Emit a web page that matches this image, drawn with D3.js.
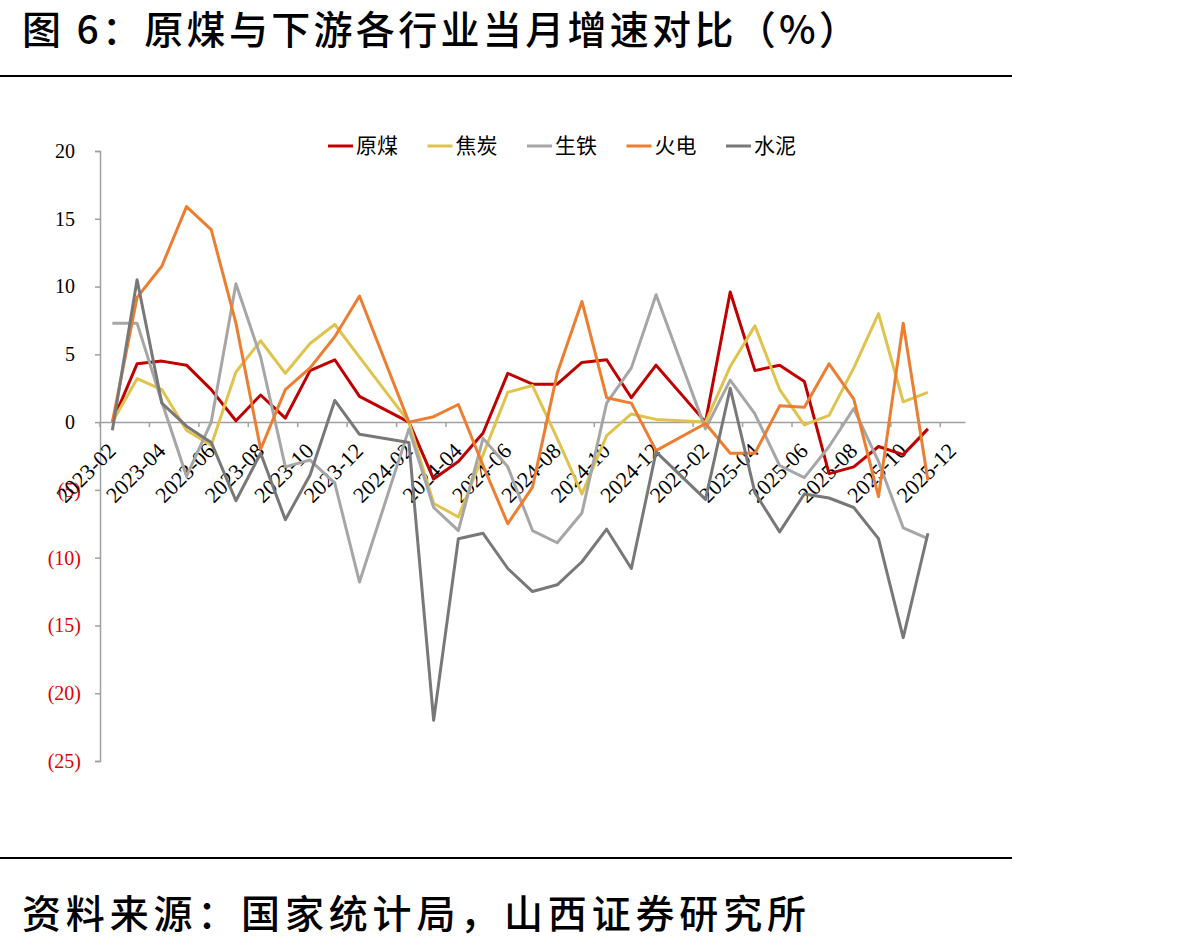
<!DOCTYPE html>
<html><head><meta charset="utf-8">
<script src="https://cdn.jsdelivr.net/npm/d3@7/dist/d3.min.js"></script>
<style>body{margin:0;background:#fff}</style>
</head><body>
<svg id="c" width="1193" height="944"></svg>
<script>
// ---- data ----
const categories = ["2023-02","2023-03","2023-04","2023-05","2023-06","2023-07","2023-08","2023-09","2023-10","2023-11","2023-12",
  "2024-01","2024-02","2024-03","2024-04","2024-05","2024-06","2024-07","2024-08","2024-09","2024-10","2024-11","2024-12",
  "2025-01","2025-02","2025-03","2025-04","2025-05","2025-06","2025-07","2025-08","2025-09","2025-10","2025-11","2025-12"];
const seriesNames = ["原煤","焦炭","生铁","火电","水泥"];
const coal   = [0.0,4.3,4.5,4.2,2.4,0.1,2.0,0.3,3.8,4.6,1.9,null,0.0,-4.2,-2.9,-0.8,3.6,2.8,2.8,4.4,4.6,1.8,4.2,null,0.0,9.6,3.8,4.2,3.0,-3.8,-3.3,-1.8,-2.4,-0.5,null];
const coke   = [0.0,3.2,2.4,-0.6,-1.7,3.7,6.0,3.6,5.8,7.2,4.8,null,0.0,-6.0,-7.0,-2.4,2.2,2.7,-1.2,-5.3,-1.0,0.6,0.2,null,0.0,4.1,7.1,2.4,-0.2,0.5,4.0,8.0,1.5,2.2,null];
const pigIron= [7.3,7.3,1.5,-4.0,0.0,10.2,4.8,-3.3,-2.8,-4.5,-11.8,null,-0.5,-6.3,-8.0,-1.2,-3.3,-8.0,-8.9,-6.7,1.4,4.0,9.4,null,-0.5,3.1,0.6,-3.2,-4.1,-1.8,1.0,-2.9,-7.8,-8.6,null];
const thermal= [0.0,9.2,11.5,15.9,14.2,7.3,-2.0,2.4,4.0,6.3,9.3,null,0.0,0.4,1.3,-3.2,-7.5,-4.8,3.6,8.9,1.8,1.4,-2.1,null,-0.1,-2.3,-2.3,1.2,1.1,4.3,1.7,-5.5,7.3,-4.3,null];
const cement = [-0.6,10.5,1.4,-0.3,-1.5,-5.8,-2.3,-7.2,-3.9,1.6,-0.9,null,-1.5,-22.0,-8.6,-8.2,-10.8,-12.5,-12.0,-10.3,-7.9,-10.8,-2.2,null,-5.7,2.5,-5.2,-8.1,-5.3,-5.6,-6.3,-8.6,-15.9,-8.2,null];
const yTicks = [20,15,10,5,0,-5,-10,-15,-20,-25];
const xTickLabels = categories.filter((d,i)=>i%2===0);
const seriesColors = ["#C00000","#DFC34C","#A6A6A6","#ED7D31","#787878"];
const seriesValues = [coal, coke, pigIron, thermal, cement];

// ---- chart ----
const svg = d3.select("#c");
svg.append("rect").attr("width",1193).attr("height",944).attr("fill","#fff");
const serif = "'Times New Roman','Liberation Serif',serif";
const cjk = "'Noto Sans CJK SC','Noto Sans SC',sans-serif";

// title
svg.append("text").attr("x",22).attr("y",44).attr("font-family",cjk).attr("font-size",39)
  .attr("font-weight",500).attr("fill","#000").attr("textLength",836).attr("lengthAdjust","spacing")
  .text("图 6：原煤与下游各行业当月增速对比（%）");
svg.append("line").attr("x1",0).attr("x2",1012).attr("y1",76).attr("y2",76).attr("stroke","#000").attr("stroke-width",2);
svg.append("line").attr("x1",0).attr("x2",1012).attr("y1",858).attr("y2",858).attr("stroke","#000").attr("stroke-width",2);
svg.append("text").attr("x",22).attr("y",928).attr("font-family",cjk).attr("font-size",39)
  .attr("font-weight",500).attr("fill","#000").attr("textLength",784).attr("lengthAdjust","spacing")
  .text("资料来源：国家统计局，山西证券研究所");

const x = d3.scaleBand().domain(categories).range([100,965]).padding(0);
const y = d3.scaleLinear().domain([-25,20]).range([761,151]);
const axisColor = "#A0A0A0";

// y axis
const yAxis = svg.append("g").attr("transform","translate(100,0)")
  .call(d3.axisLeft(y).tickValues(yTicks).tickSize(5).tickPadding(19)
    .tickFormat(d => d < 0 ? "(" + (-d) + ")" : String(d)));
yAxis.select(".domain").attr("stroke",axisColor).attr("stroke-width",1.5);
yAxis.selectAll(".tick line").attr("stroke",axisColor).attr("stroke-width",1.5);
yAxis.selectAll(".tick text").attr("font-family",serif).attr("font-size",20)
  .attr("fill", d => d < 0 ? "#E00000" : "#000")
  .attr("x", d => d < 0 ? -19 : -25);

// x axis at y=0
const x0 = y(0);
const xAxis = svg.append("g").attr("transform",`translate(0,${x0})`)
  .call(d3.axisBottom(x).tickValues(xTickLabels).tickSize(0).tickFormat(d=>d));
xAxis.select(".domain").attr("stroke",axisColor).attr("stroke-width",1.5);
xAxis.selectAll(".tick text").attr("font-family",serif).attr("font-size",22).attr("fill","#000")
  .attr("text-anchor","end").attr("dy",0).attr("y",0)
  .attr("transform","translate(5,30) rotate(-45)");
svg.append("g").selectAll("line").data(xTickLabels).join("line")
  .attr("x1",d=>x(d)).attr("x2",d=>x(d)).attr("y1",x0).attr("y2",x0+5)
  .attr("stroke",axisColor).attr("stroke-width",1.5);

// lines
const line = d3.line().x(d => x(d.c) + x.bandwidth()/2).y(d => y(d.v));
seriesValues.forEach((vals, k) => {
  const pts = vals.map((v,i)=>({c:categories[i], v})).filter(d => d.v !== null);
  svg.append("path").datum(pts).attr("d",line).attr("fill","none")
    .attr("stroke",seriesColors[k]).attr("stroke-width",3).attr("stroke-linejoin","round");
});

// legend
const lg = svg.append("g");
seriesNames.forEach((n,k) => {
  const lx = 328 + k*99.5;
  lg.append("line").attr("x1",lx).attr("x2",lx+25).attr("y1",146).attr("y2",146)
    .attr("stroke",seriesColors[k]).attr("stroke-width",3);
  lg.append("text").attr("x",lx+28).attr("y",153).attr("font-family",cjk).attr("font-size",21)
    .attr("fill","#000").text(n);
});
</script>
</body></html>
